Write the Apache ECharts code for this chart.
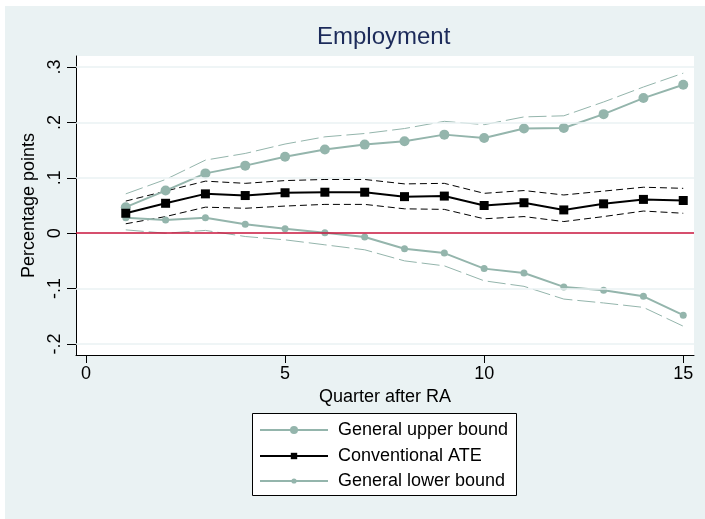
<!DOCTYPE html>
<html>
<head>
<meta charset="utf-8">
<script src="https://cdn.jsdelivr.net/npm/echarts@6/dist/echarts.min.js"></script>
<style>
  html, body { margin: 0; padding: 0; background: #ffffff; width: 705px; height: 519px; overflow: hidden; }
  #chart { position: absolute; left: 5px; top: 6px; width: 700px; height: 513px; }
</style>
</head>
<body>
<div id="chart"></div>
<script>
// ---- data ----
const quarters = [1, 2, 3, 4, 5, 6, 7, 8, 9, 10, 11, 12, 13, 14, 15];
const upperBound   = [0.047, 0.077, 0.108, 0.122, 0.138, 0.151, 0.160, 0.166, 0.178, 0.172, 0.189, 0.190, 0.215, 0.244, 0.268];
const upperBoundCI = [0.071, 0.097, 0.132, 0.144, 0.161, 0.174, 0.180, 0.189, 0.202, 0.196, 0.210, 0.212, 0.237, 0.264, 0.289];
const ate          = [0.036, 0.054, 0.071, 0.068, 0.073, 0.074, 0.074, 0.066, 0.067, 0.050, 0.055, 0.042, 0.053, 0.061, 0.059];
const ateUpper     = [0.058, 0.076, 0.094, 0.090, 0.095, 0.097, 0.097, 0.089, 0.090, 0.072, 0.077, 0.069, 0.076, 0.083, 0.081];
const ateLower     = [0.017, 0.030, 0.047, 0.045, 0.049, 0.052, 0.052, 0.044, 0.043, 0.026, 0.030, 0.021, 0.030, 0.040, 0.036];
const lowerBound   = [0.028, 0.024, 0.028, 0.016, 0.008, 0.001, -0.007, -0.028, -0.036, -0.064, -0.072, -0.097, -0.103, -0.114, -0.148];
const lowerBoundCI = [0.006, 0.000, 0.005, -0.006, -0.012, -0.021, -0.030, -0.050, -0.059, -0.086, -0.096, -0.119, -0.126, -0.134, -0.168];

const xTicks = [0, 5, 10, 15];
const yTicks = [-0.2, -0.1, 0, 0.1, 0.2, 0.3];
const yTickLabels = ['-.2', '-.1', '0', '.1', '.2', '.3'];
const seriesNames = ['General upper bound', 'Conventional ATE', 'General lower bound'];

const pairs = arr => quarters.map((q, i) => [q, arr[i]]);

const TEAL = '#94b5ac';
const FONT = '"Liberation Sans", Arial, sans-serif';

const chart = echarts.init(document.getElementById('chart'), null, { renderer: 'canvas' });

const legendRowTops = [414, 440, 465];
const legendIconHeights = [10, 8, 6.5];
const legends = seriesNames.map((name, i) => ({
  data: [name],
  orient: 'vertical',
  left: 254, top: legendRowTops[i],
  padding: 0,
  itemWidth: 68, itemHeight: legendIconHeights[i],
  z: 10,
  textStyle: { fontFamily: FONT, fontSize: 18, color: '#000', lineHeight: 20, padding: [0, 0, 0, 5] }
}));

const option = {
  backgroundColor: '#eaf2f3',
  animation: false,
  textStyle: { fontFamily: FONT },
  title: {
    text: 'Employment',
    left: 312, top: 19, padding: 0,
    textStyle: { fontFamily: FONT, fontSize: 24, fontWeight: 'normal', color: '#1c2b5a' }
  },
  graphic: [{
    type: 'rect', z: 0, silent: true,
    shape: { x: 247.5, y: 407.5, width: 264, height: 82 },
    style: { fill: '#ffffff', stroke: '#000000', lineWidth: 1 }
  }],
  grid: {
    left: 71, top: 50, right: 11, bottom: 164,
    show: true, backgroundColor: '#ffffff', borderWidth: 0
  },
  legend: legends,
  xAxis: {
    type: 'value', min: -0.25, max: 15.27,
    name: 'Quarter after RA', nameLocation: 'middle', nameGap: 29,
    nameTextStyle: { fontFamily: FONT, fontSize: 18, color: '#000' },
    axisLine: { show: true, onZero: false, lineStyle: { color: '#000', width: 1 } },
    axisTick: { show: true, length: 8, customValues: xTicks, lineStyle: { color: '#000' } },
    axisLabel: { customValues: xTicks, margin: 10, fontFamily: FONT, fontSize: 18, color: '#000' },
    splitLine: { show: false }
  },
  yAxis: {
    type: 'value', min: -0.22, max: 0.32,
    name: 'Percentage points', nameLocation: 'middle', nameGap: 31,
    nameTextStyle: { fontFamily: FONT, fontSize: 18, color: '#000' },
    axisLine: { show: true, onZero: false, lineStyle: { color: '#000', width: 1 } },
    axisTick: { show: true, length: 9, customValues: yTicks, lineStyle: { color: '#000' } },
    axisLabel: {
      customValues: yTicks, rotate: 90, margin: 12, fontFamily: FONT, fontSize: 18, color: '#000',
      formatter: v => { const i = yTicks.findIndex(t => Math.abs(t - v) < 1e-9); return i >= 0 ? yTickLabels[i] : ''; }
    },
    splitLine: { show: false }
  },
  series: [
    {
      name: 'gridlines', type: 'line', data: [], silent: true, z: 1,
      markLine: {
        silent: true, symbol: 'none', label: { show: false },
        lineStyle: { color: '#eaf2f3', width: 1.5, type: 'solid' },
        data: yTicks.filter(t => t !== 0).map(t => ({ yAxis: t }))
      }
    },
    {
      name: 'zero', type: 'line', data: [], silent: true, z: 3,
      markLine: {
        silent: true, symbol: 'none', label: { show: false },
        lineStyle: { color: '#c8143c', width: 1.5, type: 'solid' },
        data: [{ yAxis: 0 }]
      }
    },
    {
      name: 'upperCI', type: 'line', data: pairs(upperBoundCI), showSymbol: false, z: 2,
      lineStyle: { color: TEAL, width: 1, type: [18, 5] }
    },
    {
      name: 'lowerCI', type: 'line', data: pairs(lowerBoundCI), showSymbol: false, z: 2,
      lineStyle: { color: TEAL, width: 1, type: [18, 5] }
    },
    {
      name: 'ateUpper', type: 'line', data: pairs(ateUpper), showSymbol: false, z: 2,
      lineStyle: { color: '#000', width: 1, type: [7, 4] }
    },
    {
      name: 'ateLower', type: 'line', data: pairs(ateLower), showSymbol: false, z: 2,
      lineStyle: { color: '#000', width: 1, type: [7, 4] }
    },
    {
      name: seriesNames[0], type: 'line', data: pairs(upperBound), z: 4,
      symbol: 'circle', symbolSize: 10, showSymbol: true,
      lineStyle: { color: TEAL, width: 2 }, itemStyle: { color: TEAL }
    },
    {
      name: seriesNames[1], type: 'line', data: pairs(ate), z: 5,
      symbol: 'rect', symbolSize: 9, showSymbol: true,
      lineStyle: { color: '#000', width: 2 }, itemStyle: { color: '#000' }
    },
    {
      name: seriesNames[2], type: 'line', data: pairs(lowerBound), z: 4,
      symbol: 'circle', symbolSize: 7, showSymbol: true,
      lineStyle: { color: TEAL, width: 2 }, itemStyle: { color: TEAL }
    }
  ]
};
chart.setOption(option);
</script>
</body>
</html>
